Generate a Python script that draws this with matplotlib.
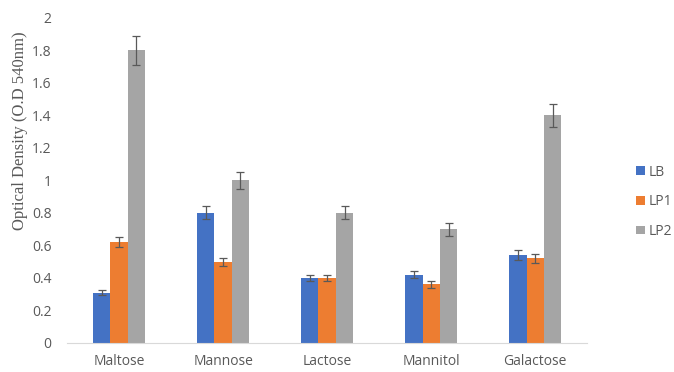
import numpy as np
import matplotlib
matplotlib.use("Agg")
import matplotlib.pyplot as plt

# sugars on the x axis and the three strains
sugars = ["Maltose", "Mannose", "Lactose", "Mannitol", "Galactose"]
strains = ["LB", "LP1", "LP2"]

lb = [0.31, 0.80, 0.40, 0.42, 0.54]
lp1 = [0.62, 0.50, 0.40, 0.36, 0.52]
lp2 = [1.80, 1.00, 0.80, 0.70, 1.40]

lb_err = [0.015, 0.04, 0.02, 0.02, 0.03]
lp1_err = [0.03, 0.025, 0.02, 0.02, 0.03]
lp2_err = [0.09, 0.05, 0.04, 0.04, 0.07]

yticks = [0, 0.2, 0.4, 0.6, 0.8, 1, 1.2, 1.4, 1.6, 1.8, 2]
ytick_labels = ["0", "0.2", "0.4", "0.6", "0.8", "1", "1.2", "1.4", "1.6", "1.8", "2"]

colors = ["#4472c4", "#ed7d31", "#a5a5a5"]
txt = "#595959"

fig = plt.figure(figsize=(6.74, 3.72), dpi=100)
ax = fig.add_axes([0.0994, 0.078, 0.772, 0.874])

x = np.arange(len(sugars))
w = 0.167
series = [lb, lp1, lp2]
errs = [lb_err, lp1_err, lp2_err]
for i in range(3):
    ax.bar(x + (i - 1) * w, series[i], w, color=colors[i], label=strains[i],
           yerr=errs[i], error_kw=dict(ecolor="#595959", elinewidth=0.9, capsize=3, capthick=0.9))

ax.set_xlim(-0.5, len(sugars) - 0.5)
ax.set_ylim(0, 2)
ax.set_yticks(yticks)
ax.set_yticklabels(ytick_labels)
ax.set_xticks(x)
ax.set_xticklabels(sugars)
for s in ["top", "right", "left"]:
    ax.spines[s].set_visible(False)
ax.spines["bottom"].set_color("#d9d9d9")
ax.tick_params(axis="both", length=0, colors=txt, labelsize=10)
for lab in ax.get_xticklabels() + ax.get_yticklabels():
    lab.set_family("Open Sans")
ax.tick_params(axis="y", pad=11)
ax.tick_params(axis="x", pad=8)

ax.set_ylabel("Optical Density (O.D 540nm)", family="Liberation Serif", fontsize=12, color=txt)
ax.yaxis.set_label_coords(-0.075, 0.652)

leg = ax.legend(loc="center left", bbox_to_anchor=(1.07, 0.434), frameon=False,
                handlelength=0.6, handleheight=0.6, handletextpad=0.3, labelspacing=1.05,
                prop={"family": "Open Sans", "size": 10})
for t in leg.get_texts():
    t.set_color(txt)

fig.savefig("out.png", dpi=100)
